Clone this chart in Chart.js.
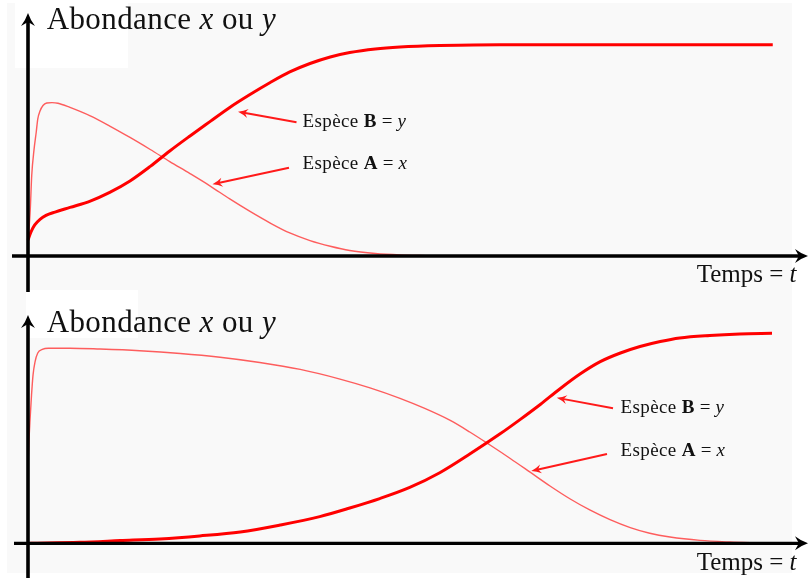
<!DOCTYPE html>
<html lang="fr">
<head>
<meta charset="UTF-8">
<title>Abondance des espèces A et B</title>
<script src="https://cdn.jsdelivr.net/npm/chart.js"></script>
<style>
  body { margin: 0; background: #fff; }
  #wrap { position: relative; width: 808px; height: 578px; overflow: hidden;
          font-family: 'Liberation Serif', 'DejaVu Serif', serif; color: #111; }
  .bg { position: absolute; left: 7px; top: 3px; width: 785px; height: 570px; background: #f9f9f9; }
  .blank { position: absolute; background: #fff; }
  canvas { position: absolute; left: 0; }
  .txt { position: absolute; white-space: nowrap; line-height: 1; }
  .title { font-size: 31px; letter-spacing: 0.4px; }
  .tag { font-size: 19px; letter-spacing: 0.4px; }
  .axis-name { font-size: 25px; }
  .eq { margin: 0 0.25em; font-style: normal; }
  .mark { display: inline-block; width: 0; height: 0; vertical-align: baseline; }
</style>
</head>
<body>
<div id="wrap">
  <div class="bg"></div>
  <div class="blank" style="left:15px;top:0;width:113px;height:68px"></div>
  <div class="blank" style="left:26px;top:290px;width:112px;height:48px"></div>
  <canvas id="topChart" width="808" height="292" style="top:0"></canvas>
  <canvas id="bottomChart" width="808" height="288" style="top:290px"></canvas>

  <div class="txt title" id="title1">Abondance <i>x</i> ou <i>y</i></div>
  <div class="txt title" id="title2">Abondance <i>x</i> ou <i>y</i></div>
  <div class="txt axis-name" id="time1">Temps<span class="eq">=</span><i>t</i></div>
  <div class="txt axis-name" id="time2">Temps<span class="eq">=</span><i>t</i></div>
  <div class="txt tag" id="tagB1">Espèce <b>B</b><span class="eq">=</span><i>y</i></div>
  <div class="txt tag" id="tagA1">Espèce <b>A</b><span class="eq">=</span><i>x</i></div>
  <div class="txt tag" id="tagB2">Espèce <b>B</b><span class="eq">=</span><i>y</i></div>
  <div class="txt tag" id="tagA2">Espèce <b>A</b><span class="eq">=</span><i>x</i></div>
</div>
<script>
  // time axis runs 0..100, abundance 0..100 (100 = plateau of B)

  // top panel: A peaks early, B takes over
  const topTimeA = [0, 0.3, 0.5, 0.8, 1.1, 1.3, 1.6, 2.0, 2.5, 3.2, 4.0, 5.6, 8.3, 10.9, 13.6, 16.3, 18.9,
                    21.6, 24.3, 26.9, 29.6, 32.3, 34.9, 37.6, 40.3, 42.9, 46.3, 49.6, 53.6];
  const topA = [6.2, 21.8, 38.3, 50.2, 58.7, 64.8, 68.6, 71.2, 72.4, 72.6, 72.3, 70.3, 66.3, 61.5, 56.1, 50.4, 44.7,
                39.0, 33.1, 27.0, 21.1, 15.6, 10.9, 7.3, 4.6, 2.6, 1.2, 0.5, 0.1];
  const topTimeB = [0, 0.4, 0.9, 1.6, 2.4, 3.6, 5.6, 8.3, 10.9, 13.6, 16.3, 18.9, 21.6, 24.3, 26.9, 29.6,
                    32.3, 34.9, 37.6, 40.3, 42.9, 46.3, 49.6, 54.9, 62.9, 70.9, 99.3];
  const topB = [7.6, 11.4, 14.7, 17.3, 19.2, 20.8, 23.0, 26.0, 30.1, 35.5, 42.4, 49.7, 56.8, 63.7, 70.3, 76.4,
                82.1, 87.1, 91.1, 94.2, 96.3, 98.0, 98.9, 99.6, 99.95, 100, 100];

  // bottom panel: A stays high much longer
  const botTimeA = [0, 0.13, 0.27, 0.47, 0.67, 0.93, 1.3, 1.9, 2.7, 5.6, 9.6, 14.9, 20.3, 25.6, 30.9, 36.3,
                    41.6, 45.6, 49.6, 52.9, 56.3, 58.9, 61.6, 64.3, 66.9, 69.6, 72.3, 74.9, 77.6, 80.3,
                    82.9, 85.6, 89.6, 93.6, 97.6];
  const botA = [37.3, 49.2, 58.7, 70.6, 80.1, 86.3, 90.6, 92.3, 92.9, 92.9, 92.5, 91.7, 90.4, 88.6, 86.1, 82.8,
                78.2, 74.0, 69.0, 64.2, 58.5, 53.0, 46.8, 40.4, 34.0, 27.3, 21.1, 15.9, 11.3, 7.5,
                4.8, 3.0, 1.4, 0.6, 0.1];
  const botTimeB = [0.3, 6.9, 12.3, 17.6, 22.9, 28.3, 33.6, 38.9, 42.9, 46.9, 50.9, 54.9, 58.9, 62.9, 65.6,
                    68.3, 70.9, 73.6, 76.3, 78.9, 81.6, 84.3, 86.9, 90.9, 94.9, 99.2];
  const botB = [0.05, 0.5, 1.3, 2.1, 3.5, 5.4, 8.7, 12.7, 16.8, 21.3, 26.6, 33.6, 42.5, 52.0, 58.9,
                66.1, 73.5, 80.6, 86.5, 90.5, 93.7, 96.1, 97.8, 99.0, 99.7, 100];

  const RED = '#ff0000';

  // put an html label so that its baseline sits at (x, y) in page pixels
  function placeText(id, x, y) {
    const el = document.getElementById(id);
    let m = el.querySelector('.mark');
    if (!m) {
      m = document.createElement('span');
      m.className = 'mark';
      el.appendChild(m);
    }
    el.style.left = x + 'px';
    el.style.top = '0px';
    const off = m.getBoundingClientRect().top - el.getBoundingClientRect().top;
    el.style.top = (y - off) + 'px';
  }

  function arrowHead(ctx, x, y, angle, len, half) {
    ctx.save();
    ctx.translate(x, y);
    ctx.rotate(angle);
    ctx.beginPath();
    ctx.moveTo(0, 0);
    ctx.quadraticCurveTo(-len * 0.55, half * 0.35, -len, half);
    ctx.lineTo(-len * 0.7, 0);
    ctx.lineTo(-len, -half);
    ctx.quadraticCurveTo(-len * 0.55, -half * 0.35, 0, 0);
    ctx.closePath();
    ctx.fill();
    ctx.restore();
  }

  // axes with arrows, crossing at (0, 0)
  const axesPlugin = {
    id: 'arrowAxes',
    afterDatasetsDraw(chart, args, opts) {
      const ctx = chart.ctx;
      const x0 = chart.scales.x.getPixelForValue(0);
      const y0 = chart.scales.y.getPixelForValue(0);
      ctx.save();
      ctx.strokeStyle = '#000';
      ctx.fillStyle = '#000';
      ctx.lineWidth = 3.3;
      ctx.beginPath();
      ctx.moveTo(opts.xFrom, y0);
      ctx.lineTo(opts.xTo - 8, y0);
      ctx.stroke();
      arrowHead(ctx, opts.xTo, y0, 0, 13, 7);
      ctx.lineWidth = 3.6;
      ctx.beginPath();
      ctx.moveTo(x0, opts.yFrom);
      ctx.lineTo(x0, opts.yTo + 8);
      ctx.stroke();
      arrowHead(ctx, x0, opts.yTo, -Math.PI / 2, 13, 7);
      ctx.restore();
    }
  };

  // red pointers from the labels to the curves, given in data units
  const notesPlugin = {
    id: 'notes',
    afterDatasetsDraw(chart, args, opts) {
      const ctx = chart.ctx;
      const sx = chart.scales.x, sy = chart.scales.y;
      ctx.save();
      ctx.strokeStyle = '#ff1a1a';
      ctx.fillStyle = '#ff1a1a';
      ctx.lineWidth = 2;
      opts.items.forEach(n => {
        const x1 = sx.getPixelForValue(n.from[0]), y1 = sy.getPixelForValue(n.from[1]);
        const x2 = sx.getPixelForValue(n.to[0]), y2 = sy.getPixelForValue(n.to[1]);
        const a = Math.atan2(y2 - y1, x2 - x1);
        ctx.beginPath();
        ctx.moveTo(x1, y1);
        ctx.lineTo(x2 - 6 * Math.cos(a), y2 - 6 * Math.sin(a));
        ctx.stroke();
        arrowHead(ctx, x2, y2, a, 10, 4.5);
      });
      ctx.restore();
    },
    afterRender(chart, args, opts) {
      const sx = chart.scales.x, sy = chart.scales.y;
      const top = chart.canvas.offsetTop;
      opts.items.forEach(n => {
        placeText(n.label, sx.getPixelForValue(n.at[0]), top + sy.getPixelForValue(n.at[1]));
      });
    }
  };

  function makePanel(id, timeA, valA, timeB, valB, padding, axes, notes) {
    return new Chart(document.getElementById(id), {
      type: 'line',
      data: {
        datasets: [
          {
            label: 'Espèce B',
            data: timeB.map((t, i) => ({ x: t, y: valB[i] })),
            borderColor: RED,
            borderWidth: 3,
            pointRadius: 0,
            cubicInterpolationMode: 'monotone',
            clip: false
          },
          {
            label: 'Espèce A',
            data: timeA.map((t, i) => ({ x: t, y: valA[i] })),
            borderColor: 'rgba(255,40,40,0.75)',
            borderWidth: 1.4,
            pointRadius: 0,
            cubicInterpolationMode: 'monotone',
            clip: false
          }
        ]
      },
      options: {
        responsive: false,
        animation: false,
        events: [],
        layout: { padding: padding },
        scales: {
          x: { type: 'linear', min: 0, max: 100, display: false },
          y: { min: 0, max: 100, display: false }
        },
        plugins: {
          legend: { display: false },
          tooltip: { enabled: false },
          arrowAxes: axes,
          notes: { items: notes }
        }
      },
      plugins: [axesPlugin, notesPlugin]
    });
  }

  makePanel('topChart', topTimeA, topA, topTimeB, topB,
    { left: 28, right: 30, top: 44.7, bottom: 36 },
    { xFrom: 12, xTo: 808, yFrom: 292, yTo: 13 },
    [
      { from: [35.8, 63.3], to: [28.0, 68.3], at: [36.6, 61.2], label: 'tagB1' },
      { from: [34.8, 41.8], to: [24.6, 33.9], at: [36.6, 41.0], label: 'tagA1' }
    ]);

  makePanel('bottomChart', botTimeA, botA, botTimeB, botB,
    { left: 28, right: 30, top: 43.3, bottom: 34.7 },
    { xFrom: 14, xTo: 808, yFrom: 288, yTo: 25 },
    [
      { from: [78.0, 64.3], to: [70.5, 69.3], at: [79.0, 61.9], label: 'tagB2' },
      { from: [77.2, 42.5], to: [67.1, 34.4], at: [79.0, 41.6], label: 'tagA2' }
    ]);

  placeText('title1', 46.7, 29.3);
  placeText('title2', 46.7, 331.7);
  placeText('time1', 696.7, 281.7);
  placeText('time2', 696.7, 570);
</script>
</body>
</html>
